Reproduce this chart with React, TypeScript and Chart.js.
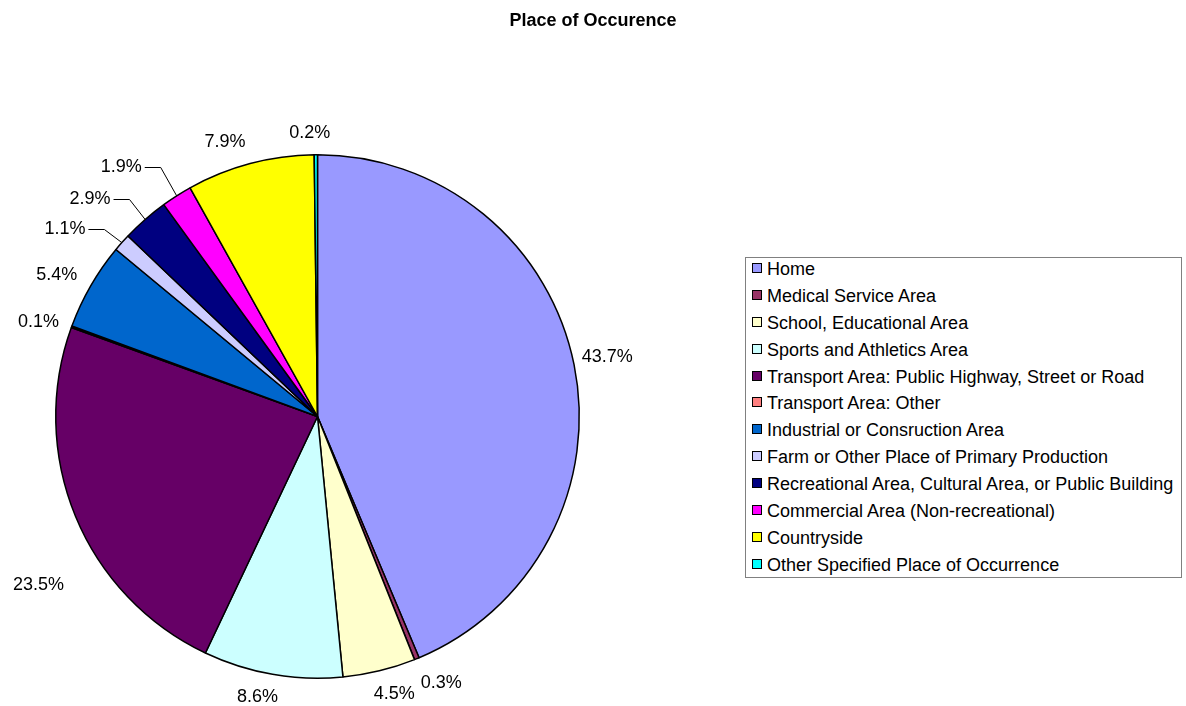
import React, { useEffect, useRef } from "react";
import { Chart, registerables } from "chart.js";

Chart.register(...registerables);

const categories = [
  "Home",
  "Medical Service Area",
  "School, Educational Area",
  "Sports and Athletics Area",
  "Transport Area: Public Highway, Street or Road",
  "Transport Area: Other",
  "Industrial or Consruction Area",
  "Farm or Other Place of Primary Production",
  "Recreational Area, Cultural Area, or Public Building",
  "Commercial Area (Non-recreational)",
  "Countryside",
  "Other Specified Place of Occurrence",
];

const percentValues = [43.7, 0.3, 4.5, 8.6, 23.5, 0.1, 5.4, 1.1, 2.9, 1.9, 7.9, 0.2];

const sliceColors = [
  "#9999FF",
  "#993366",
  "#FFFFCC",
  "#CCFFFF",
  "#660066",
  "#FF8080",
  "#0066CC",
  "#CCCCFF",
  "#000080",
  "#FF00FF",
  "#FFFF00",
  "#00FFFF",
];

// label placement style: angular nudge (deg) and radial gap (px) beyond the outer edge
const labelNudgeDeg = [-0.2, -2.6, -1.8, 2.2, -8.7, -1.3, -1.4, -5, -5.1, -5.6, -3.7, -1.2];
const labelGap = [34, 32, 26, 25, 64, 33, 35, 53, 53, 56, 28, 22];
const labelLeader = [false, false, false, false, false, false, false, true, true, true, false, false];

const FONT = '"Liberation Sans", Arial, Helvetica, sans-serif';

const labelPlugin = {
  id: "pieLabels",
  afterDatasetsDraw(chart: any) {
    const ctx = chart.ctx;
    const meta = chart.getDatasetMeta(0);
    ctx.save();
    ctx.font = `18px ${FONT}`;
    ctx.fillStyle = "#000";
    ctx.textBaseline = "middle";
    ctx.textAlign = "center";
    meta.data.forEach((arc: any, i: number) => {
      const { x, y, startAngle, endAngle, outerRadius } = arc.getProps(
        ["x", "y", "startAngle", "endAngle", "outerRadius"],
        true
      );
      const mid = (startAngle + endAngle) / 2;
      const a = mid + (labelNudgeDeg[i] * Math.PI) / 180;
      const d = outerRadius + labelGap[i];
      const lx = x + d * Math.cos(a);
      const ly = y + d * Math.sin(a);
      const text = `${percentValues[i].toFixed(1)}%`;
      ctx.fillText(text, lx, ly);
      if (labelLeader[i]) {
        const w = ctx.measureText(text).width;
        const sx = lx + w / 2 + 3;
        const ex = sx + 16;
        const px = x + outerRadius * Math.cos(mid);
        const py = y + outerRadius * Math.sin(mid);
        ctx.beginPath();
        ctx.strokeStyle = "#000";
        ctx.lineWidth = 1;
        ctx.moveTo(sx, Math.round(ly) + 0.5);
        ctx.lineTo(ex, Math.round(ly) + 0.5);
        ctx.lineTo(px, py);
        ctx.stroke();
      }
    });
    ctx.restore();
  },
};

export default function App() {
  const canvasRef = useRef<HTMLCanvasElement | null>(null);

  useEffect(() => {
    if (!canvasRef.current) return;
    const chart = new Chart(canvasRef.current, {
      type: "pie",
      data: {
        labels: categories,
        datasets: [
          {
            data: percentValues,
            backgroundColor: sliceColors,
            borderColor: "#000000",
            borderWidth: 1.5,
          },
        ],
      },
      options: {
        animation: false,
        responsive: false,
        maintainAspectRatio: false,
        layout: { padding: { left: 55, top: 154, right: 606, bottom: 27 } },
        plugins: {
          legend: { display: false },
          title: { display: false },
          tooltip: { enabled: false },
        },
      },
      plugins: [labelPlugin],
    });
    return () => chart.destroy();
  }, []);

  return (
    <div style={{ position: "fixed", left: 0, top: 0, width: 1186, height: 706, background: "#fff", fontFamily: FONT }}>
      <canvas ref={canvasRef} width={1186} height={706} style={{ position: "absolute", left: 0, top: 0, width: 1186, height: 706 }} />
      <div
        style={{
          position: "absolute",
          left: 0,
          top: 10,
          width: 1186,
          textAlign: "center",
          fontWeight: "bold",
          fontSize: 18,
          lineHeight: "20px",
          color: "#000",
        }}
      >
        Place of Occurence
      </div>
      <div
        style={{
          position: "absolute",
          left: 745,
          top: 257,
          border: "1px solid #808080",
          padding: "0 8px 0 6px",
          background: "#fff",
          boxSizing: "border-box",
          height: 321,
        }}
      >
        <div style={{ marginTop: -2 }}>
          {categories.map((c, i) => (
            <div key={c} style={{ display: "flex", alignItems: "center", height: 26.9, fontSize: 18, whiteSpace: "nowrap", color: "#000" }}>
              <span
                style={{
                  display: "inline-block",
                  width: 10,
                  height: 10,
                  boxSizing: "border-box",
                  border: "1px solid #000",
                  background: sliceColors[i],
                  marginRight: 5,
                  marginTop: -3,
                }}
              />
              <span>{c}</span>
            </div>
          ))}
        </div>
      </div>
    </div>
  );
}
